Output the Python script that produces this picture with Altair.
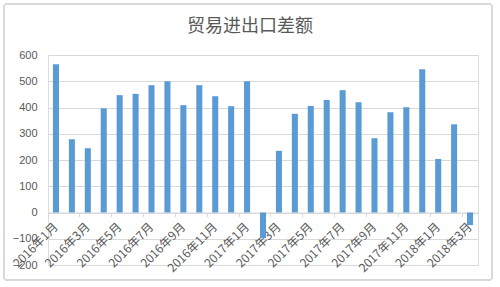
import altair as alt
import pandas as pd

months = [
    "2016年1月", "2016年2月", "2016年3月", "2016年4月", "2016年5月", "2016年6月",
    "2016年7月", "2016年8月", "2016年9月", "2016年10月", "2016年11月", "2016年12月",
    "2017年1月", "2017年2月", "2017年3月", "2017年4月", "2017年5月", "2017年6月",
    "2017年7月", "2017年8月", "2017年9月", "2017年10月", "2017年11月", "2017年12月",
    "2018年1月", "2018年2月", "2018年3月",
]
values = [565, 279, 245, 397, 447, 452, 485, 500, 409, 485, 443, 405,
          500, -98, 235, 376, 406, 429, 466, 420, 283, 382, 401, 546,
          204, 336, -48]
label_months = months[::2]
y_ticks = [-200, -100, 0, 100, 200, 300, 400, 500, 600]
title_text = ["贸易进出口差额"]

df = pd.DataFrame({"month": months, "value": values})

W, H = 430, 210

bars = alt.Chart(df).mark_bar(
    color="#5b9bd5", width=alt.RelativeBandSize(0.38)
).encode(
    x=alt.X(
        "month:N",
        sort=months,
        scale=alt.Scale(paddingInner=0, paddingOuter=0),
        axis=alt.Axis(
            title=None,
            values=label_months,
            bandPosition=0,
            labelAngle=-45,
            labelAlign="right",
            labelBaseline="middle",
            labelPadding=8,
            labelFont="Noto Sans CJK SC",
            labelFontSize=12,
            labelColor="#595959",
            ticks=True,
            tickSize=4,
            tickColor="#d9d9d9",
            domain=True,
            domainColor="#d9d9d9",
            grid=False,
            offset=-H / 4,
            labelOverlap=False,
        ),
    ),
    y=alt.Y(
        "value:Q",
        scale=alt.Scale(domain=[-200, 600], nice=False),
        axis=alt.Axis(
            title=None,
            values=y_ticks,
            domain=False,
            ticks=False,
            grid=True,
            gridColor="#d9d9d9",
            labelFont="Liberation Sans",
            labelFontSize=11,
            labelColor="#595959",
            labelPadding=11,
        ),
    ),
)

border = alt.Chart(df).mark_rect(
    fill=None, stroke="#d9d9d9", strokeWidth=1, cornerRadius=3
).encode(
    x=alt.value(-44), x2=alt.value(444),
    y=alt.value(-51), y2=alt.value(225),
)

title = alt.Chart(pd.DataFrame({"t": title_text})).mark_text(
    font="Noto Sans CJK SC",
    fontSize=18,
    fontWeight="normal",
    color="#595959",
    align="center",
    baseline="middle",
).encode(
    text="t:N",
    x=alt.value(202),
    y=alt.value(-28),
)

chart = alt.layer(border, bars, title).properties(
    width=W, height=H,
    autosize=alt.AutoSizeParams(type="none"),
    padding={"left": 48, "top": 55, "right": 22, "bottom": 22},
).configure_view(stroke=None).configure(background="white")

chart.save("out.html", embed_options={"renderer": "svg", "actions": False})
